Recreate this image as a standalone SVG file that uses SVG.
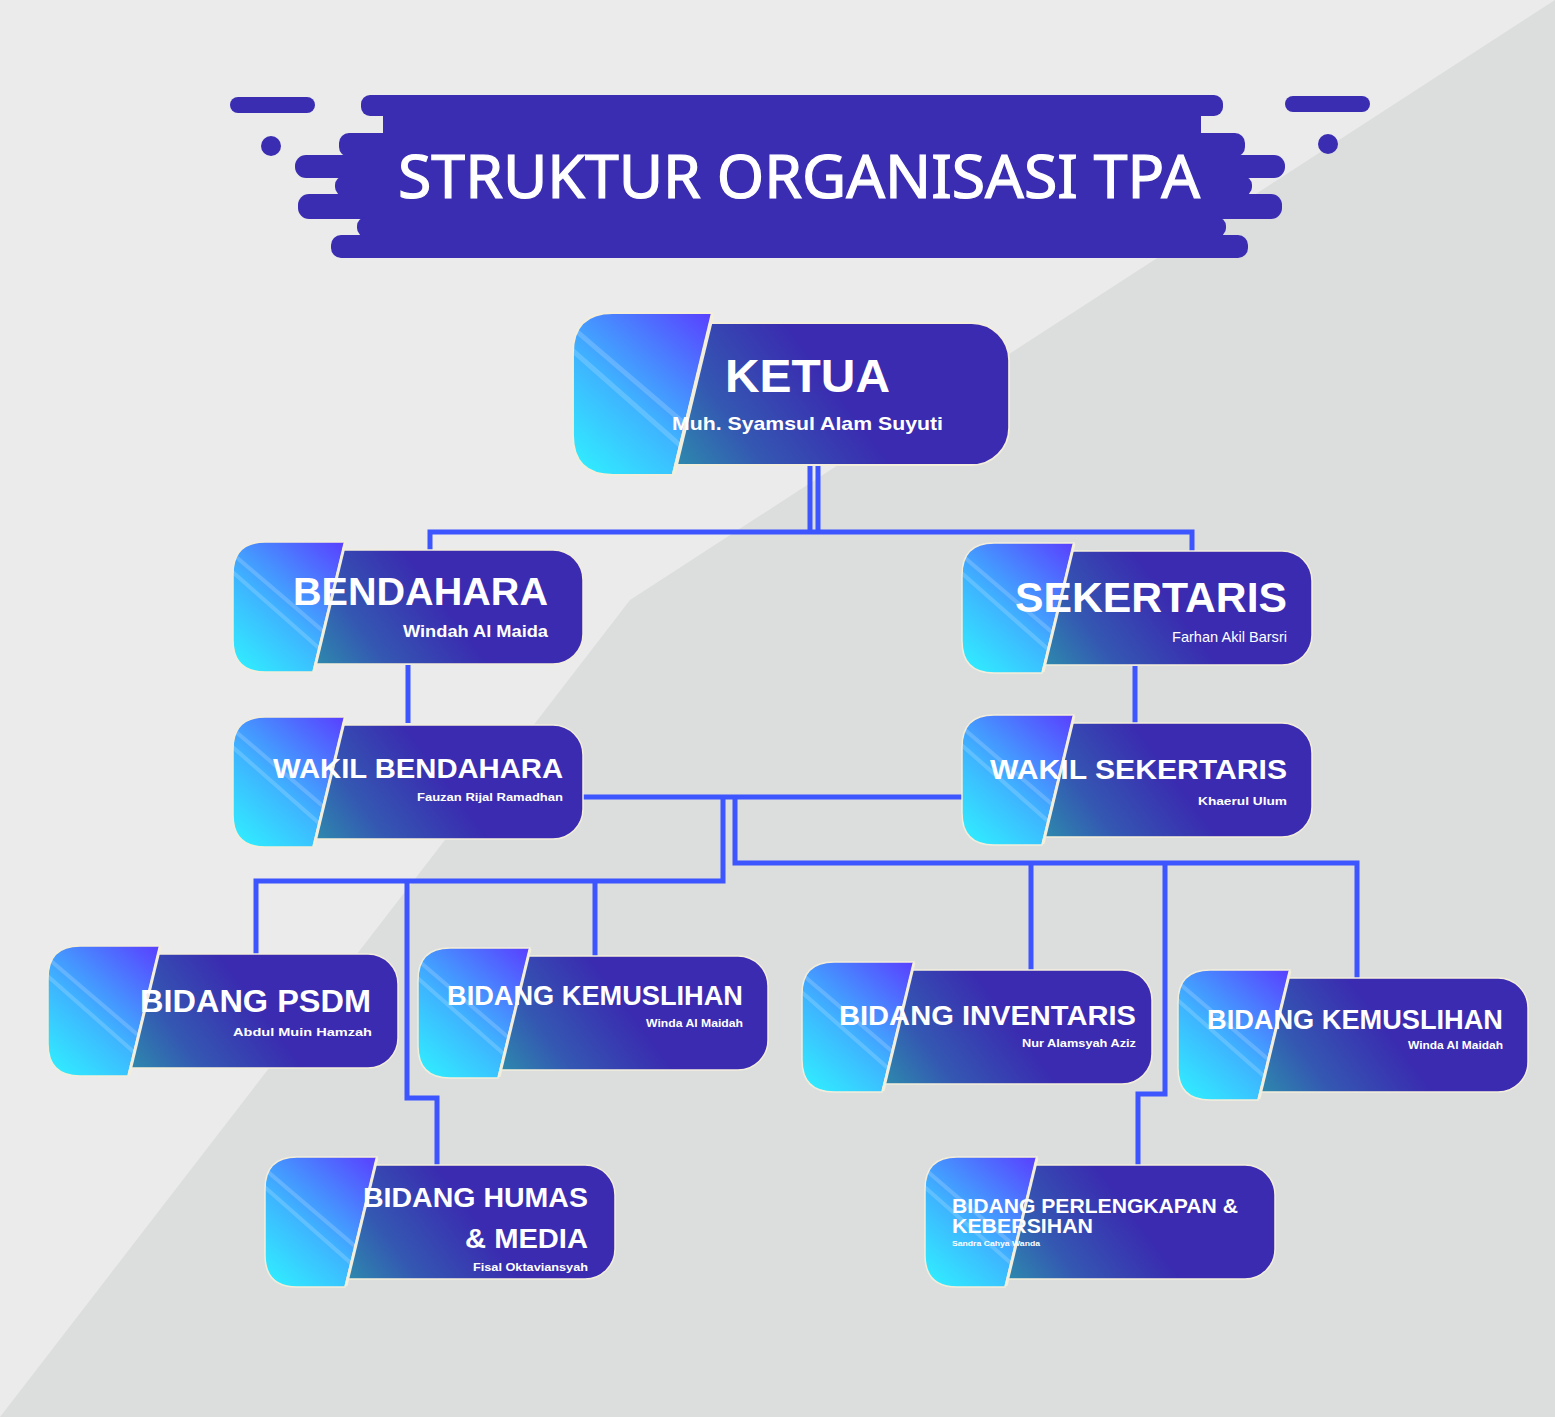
<svg xmlns="http://www.w3.org/2000/svg" xmlns:xlink="http://www.w3.org/1999/xlink" width="1555" height="1417" viewBox="0 0 1555 1417">
<style>
.ttl{font-family:"Liberation Sans",Arial,sans-serif;font-weight:bold;fill:#ffffff}
.sub{font-family:"Liberation Sans",Arial,sans-serif;font-weight:bold;fill:#ffffff}
.thin{font-family:"Liberation Sans",Arial,sans-serif;font-weight:normal;fill:#ffffff}
.conn{fill:none;stroke:#3d55ff;stroke-width:5;stroke-linejoin:miter}
.ban{fill:#3a2db2}
</style>
<defs>
<linearGradient id="gLeft" gradientUnits="userSpaceOnUse" x1="0" y1="130" x2="115" y2="0">
<stop offset="0" stop-color="#2ff3ff"/>
<stop offset="0.45" stop-color="#3fb0ff"/>
<stop offset="1" stop-color="#5a3cff"/>
</linearGradient>
<linearGradient id="gDark" gradientUnits="userSpaceOnUse" x1="75" y1="130" x2="195" y2="40">
<stop offset="0" stop-color="#2c93ac"/>
<stop offset="0.45" stop-color="#3458b2"/>
<stop offset="1" stop-color="#3a2bb0"/>
</linearGradient>
<clipPath id="leftClip">
<path d="M32,0 H112 L80,130 H32 Q0,130 0,98 V32 Q0,0 32,0 Z"/>
</clipPath>
<g id="nodeShape">
<rect x="55" y="8" width="295" height="114" rx="30" fill="url(#gDark)" stroke="#f3eedb" stroke-width="1.5"/>
<path d="M32,0 H112 L80,130 H32 Q0,130 0,98 V32 Q0,0 32,0 Z" fill="url(#gLeft)" stroke="#f3eedb" stroke-width="1.5"/>
<g clip-path="url(#leftClip)" stroke="#ffffff" stroke-opacity="0.18" stroke-width="4">
<line x1="-5" y1="8" x2="112" y2="108"/>
<line x1="-5" y1="26" x2="104" y2="122"/>
</g>
<line x1="112" y1="1" x2="81" y2="129" stroke="#f3efdc" stroke-width="3"/>
</g>
</defs>

<rect x="0" y="0" width="1555" height="1417" fill="#ebebeb"/>
<polygon points="1555,0 630,600 0,1417 1555,1417" fill="#dcdddd"/>

<g id="title">
<rect x="230" y="97" width="85" height="16" rx="8" class="ban"/>
<circle cx="271" cy="146" r="10" class="ban"/>
<rect x="1285" y="96" width="85" height="16" rx="8" class="ban"/>
<circle cx="1328" cy="144" r="10" class="ban"/>
<rect x="361" y="95" width="862" height="21" rx="9" class="ban"/>
<rect x="383" y="113" width="818" height="23" class="ban"/>
<rect x="339" y="133" width="906" height="24" rx="10" class="ban"/>
<rect x="295" y="155" width="990" height="23" rx="11" class="ban"/>
<rect x="335" y="176" width="917" height="20" rx="9" class="ban"/>
<rect x="298" y="194" width="984" height="25" rx="11" class="ban"/>
<rect x="357" y="217" width="869" height="20" rx="9" class="ban"/>
<rect x="331" y="235" width="917" height="23" rx="10" class="ban"/>
<text x="398" y="198" font-family="'Noto Sans','Open Sans',sans-serif" font-size="60" fill="#ffffff" stroke="#ffffff" stroke-width="1.2" textLength="802" lengthAdjust="spacingAndGlyphs">STRUKTUR ORGANISASI TPA</text>
</g>

<g id="connectors">
<path class="conn" d="M810,462 V533"/>
<path class="conn" d="M818,462 V533"/>
<path class="conn" d="M430,550 V532 H1192 V552"/>
<path class="conn" d="M408,665 V723"/>
<path class="conn" d="M1135,666 V723"/>
<path class="conn" d="M583,797 H962"/>
<path class="conn" d="M723,797 V881 H256 V955"/>
<path class="conn" d="M595,881 V956"/>
<path class="conn" d="M407,881 V1098 H437 V1165"/>
<path class="conn" d="M735,797 V863 H1357 V978"/>
<path class="conn" d="M1031,863 V970"/>
<path class="conn" d="M1165,863 V1094 H1138 V1165"/>
</g>

<g id="ketua">
<use xlink:href="#nodeShape" href="#nodeShape" transform="translate(573,313) scale(1.246)"/>
<text class="ttl" x="725" y="392" font-size="47" textLength="165" lengthAdjust="spacingAndGlyphs">KETUA</text>
<text class="sub" x="672" y="430" font-size="19" textLength="271" lengthAdjust="spacingAndGlyphs">Muh. Syamsul Alam Suyuti</text>
</g>

<g id="bendahara">
<use xlink:href="#nodeShape" href="#nodeShape" transform="translate(233,542)"/>
<text class="ttl" x="293" y="605" font-size="38" textLength="255" lengthAdjust="spacingAndGlyphs">BENDAHARA</text>
<text class="sub" x="403" y="637" font-size="16" textLength="145" lengthAdjust="spacingAndGlyphs">Windah Al Maida</text>
</g>

<g id="sekertaris">
<use xlink:href="#nodeShape" href="#nodeShape" transform="translate(962,543)"/>
<text class="ttl" x="1015" y="612" font-size="42" textLength="272" lengthAdjust="spacingAndGlyphs">SEKERTARIS</text>
<text class="thin" x="1172" y="642" font-size="15" textLength="115" lengthAdjust="spacingAndGlyphs">Farhan Akil Barsri</text>
</g>

<g id="wakil-bendahara">
<use xlink:href="#nodeShape" href="#nodeShape" transform="translate(233,717)"/>
<text class="ttl" x="273" y="778" font-size="28" textLength="290" lengthAdjust="spacingAndGlyphs">WAKIL BENDAHARA</text>
<text class="sub" x="417" y="801" font-size="11" textLength="146" lengthAdjust="spacingAndGlyphs">Fauzan Rijal Ramadhan</text>
</g>

<g id="wakil-sekertaris">
<use xlink:href="#nodeShape" href="#nodeShape" transform="translate(962,715)"/>
<text class="ttl" x="990" y="779" font-size="28" textLength="297" lengthAdjust="spacingAndGlyphs">WAKIL SEKERTARIS</text>
<text class="sub" x="1198" y="805" font-size="11" textLength="89" lengthAdjust="spacingAndGlyphs">Khaerul Ulum</text>
</g>

<g id="bidang-psdm">
<use xlink:href="#nodeShape" href="#nodeShape" transform="translate(48,946)"/>
<text class="ttl" x="140" y="1012" font-size="32" textLength="231" lengthAdjust="spacingAndGlyphs">BIDANG PSDM</text>
<text class="sub" x="233" y="1036" font-size="11" textLength="139" lengthAdjust="spacingAndGlyphs">Abdul Muin Hamzah</text>
</g>

<g id="bidang-kemuslihan-1">
<use xlink:href="#nodeShape" href="#nodeShape" transform="translate(418,948)"/>
<text class="ttl" x="447" y="1005" font-size="27" textLength="296" lengthAdjust="spacingAndGlyphs">BIDANG KEMUSLIHAN</text>
<text class="sub" x="646" y="1027" font-size="10" textLength="97" lengthAdjust="spacingAndGlyphs">Winda Al Maidah</text>
</g>

<g id="bidang-inventaris">
<use xlink:href="#nodeShape" href="#nodeShape" transform="translate(802,962)"/>
<text class="ttl" x="839" y="1025" font-size="27" textLength="297" lengthAdjust="spacingAndGlyphs">BIDANG INVENTARIS</text>
<text class="sub" x="1022" y="1047" font-size="10" textLength="114" lengthAdjust="spacingAndGlyphs">Nur Alamsyah Aziz</text>
</g>

<g id="bidang-kemuslihan-2">
<use xlink:href="#nodeShape" href="#nodeShape" transform="translate(1178,970)"/>
<text class="ttl" x="1207" y="1029" font-size="27" textLength="296" lengthAdjust="spacingAndGlyphs">BIDANG KEMUSLIHAN</text>
<text class="sub" x="1408" y="1049" font-size="10" textLength="95" lengthAdjust="spacingAndGlyphs">Winda Al Maidah</text>
</g>

<g id="bidang-humas">
<use xlink:href="#nodeShape" href="#nodeShape" transform="translate(265,1157)"/>
<text class="ttl" x="363" y="1207" font-size="28" textLength="225" lengthAdjust="spacingAndGlyphs">BIDANG HUMAS</text>
<text class="ttl" x="465" y="1248" font-size="28" textLength="123" lengthAdjust="spacingAndGlyphs">&amp; MEDIA</text>
<text class="sub" x="473" y="1271" font-size="10" textLength="115" lengthAdjust="spacingAndGlyphs">Fisal Oktaviansyah</text>
</g>

<g id="bidang-perlengkapan">
<use xlink:href="#nodeShape" href="#nodeShape" transform="translate(925,1157)"/>
<text class="ttl" x="952" y="1213" font-size="20" textLength="286" lengthAdjust="spacingAndGlyphs">BIDANG PERLENGKAPAN &amp;</text>
<text class="ttl" x="952" y="1233" font-size="20" textLength="141" lengthAdjust="spacingAndGlyphs">KEBERSIHAN</text>
<text class="sub" x="952" y="1246" font-size="7" textLength="88" lengthAdjust="spacingAndGlyphs">Sandra Cahya Wanda</text>
</g>
</svg>
